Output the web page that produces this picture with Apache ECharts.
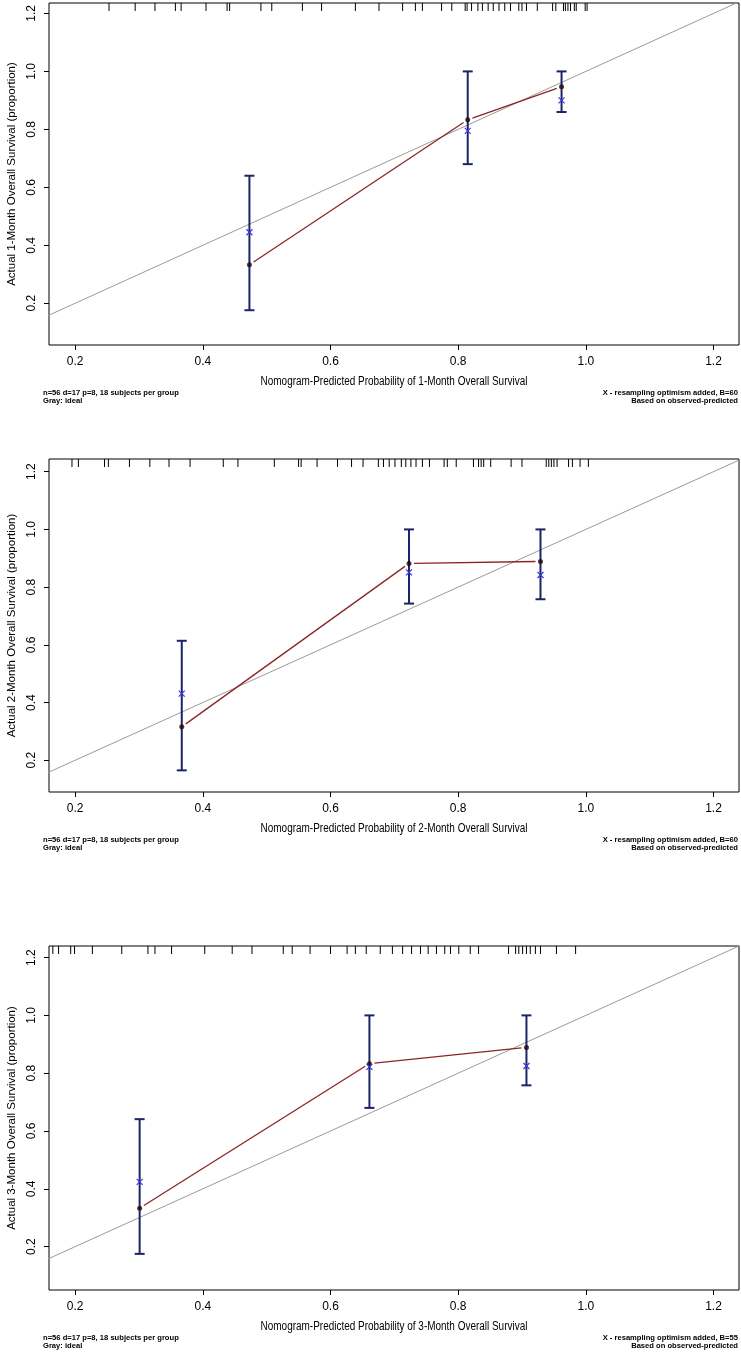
<!DOCTYPE html>
<html><head><meta charset="utf-8">
<script src="https://cdn.jsdelivr.net/npm/echarts@6/dist/echarts.min.js"></script>
<style>html,body{margin:0;padding:0;background:#fff}#c{width:741px;height:1352px}</style>
</head><body><div id="c"></div>
<script>
// ---------- data ----------
const xTicks = [0.2, 0.4, 0.6, 0.8, 1.0, 1.2];
const yTicks = [0.2, 0.4, 0.6, 0.8, 1.0, 1.2];
const monthLabels = ['1-Month', '2-Month', '3-Month'];
const bootReps = [60, 60, 55];

// panel 1: 1-month
const p1Pred = [0.473, 0.815, 0.962];
const p1Obs  = [0.333, 0.833, 0.947];
const p1Corr = [0.445, 0.795, 0.900];
const p1Lo   = [0.176, 0.680, 0.860];
const p1Hi   = [0.640, 1.000, 1.000];
const p1Rug  = [0.253,0.294,0.325,0.357,0.366,0.405,0.438,0.442,0.491,0.508,0.556,0.586,0.639,0.676,0.713,0.733,0.744,0.774,0.790,0.811,0.814,0.821,0.831,0.838,0.847,0.855,0.864,0.873,0.882,0.895,0.900,0.907,0.924,0.948,0.953,0.965,0.968,0.972,0.976,0.982,0.985,0.999,1.002];

// panel 2: 2-month
const p2Pred = [0.367, 0.723, 0.929];
const p2Obs  = [0.316, 0.882, 0.889];
const p2Corr = [0.431, 0.851, 0.842];
const p2Lo   = [0.165, 0.743, 0.758];
const p2Hi   = [0.614, 1.000, 1.000];
const p2Rug  = [0.195,0.205,0.246,0.252,0.285,0.317,0.347,0.380,0.432,0.455,0.512,0.550,0.554,0.579,0.611,0.633,0.651,0.675,0.683,0.692,0.701,0.711,0.718,0.726,0.734,0.744,0.755,0.778,0.783,0.797,0.824,0.832,0.836,0.840,0.851,0.883,0.900,0.938,0.942,0.946,0.950,0.955,0.973,0.979,0.991,1.004];

// panel 3: 3-month
const p3Pred = [0.301, 0.661, 0.907];
const p3Obs  = [0.333, 0.833, 0.889];
const p3Corr = [0.424, 0.822, 0.825];
const p3Lo   = [0.175, 0.680, 0.758];
const p3Hi   = [0.641, 1.000, 1.000];
const p3Rug  = [0.165,0.174,0.193,0.199,0.227,0.273,0.314,0.325,0.351,0.403,0.446,0.477,0.526,0.540,0.568,0.600,0.626,0.639,0.656,0.678,0.697,0.713,0.727,0.741,0.753,0.766,0.779,0.788,0.801,0.819,0.832,0.879,0.890,0.895,0.901,0.907,0.913,0.921,0.929,0.954,0.984];

// ---------- layout ----------
const panels = [
  {pred:p1Pred, obs:p1Obs, corr:p1Corr, lo:p1Lo, hi:p1Hi, rug:p1Rug, top:3,   height:342, ymin:0.056, ymax:1.236},
  {pred:p2Pred, obs:p2Obs, corr:p2Corr, lo:p2Lo, hi:p2Hi, rug:p2Rug, top:459, height:333, ymin:0.090, ymax:1.244},
  {pred:p3Pred, obs:p3Obs, corr:p3Corr, lo:p3Lo, hi:p3Hi, rug:p3Rug, top:946, height:344, ymin:0.050, ymax:1.240}
];
const X_MIN = 0.159, X_MAX = 1.240;
const GL = 49, GW = 690;
const FONT = '"Liberation Sans", Arial, sans-serif';

const chart = echarts.init(document.getElementById('c'), null, {renderer:'canvas'});
const grid = [], xAxis = [], yAxis = [], series = [], graphic = [];

panels.forEach((p, i) => {
  grid.push({left:GL, top:p.top, width:GW, height:p.height, show:true, borderColor:'#000', borderWidth:1,
    backgroundColor:'transparent', containLabel:false, outerBoundsMode:'none'});
  xAxis.push({
    type:'value', gridIndex:i, min:X_MIN, max:X_MAX,
    axisLine:{show:false}, splitLine:{show:false},
    axisTick:{show:true, inside:false, length:5, lineStyle:{color:'#000'}, customValues:xTicks},
    axisLabel:{color:'#000', fontSize:12, fontFamily:FONT, margin:11, customValues:xTicks, formatter:v=>v.toFixed(1)}
  });
  yAxis.push({
    type:'value', gridIndex:i, min:p.ymin, max:p.ymax,
    axisLine:{show:false}, splitLine:{show:false},
    axisTick:{show:true, inside:false, length:5, lineStyle:{color:'#000'}, customValues:yTicks},
    axisLabel:{color:'#000', fontSize:12, fontFamily:FONT, margin:11, rotate:90, customValues:yTicks, formatter:v=>v.toFixed(1)},
    name:'Actual ' + monthLabels[i] + ' Overall Survival (proportion)',
    nameLocation:'middle', nameGap:31, nameRotate:90,
    nameTextStyle:{color:'#000', fontSize:11.5, fontFamily:FONT}
  });
  // ideal line
  series.push({type:'line', xAxisIndex:i, yAxisIndex:i, clip:true, symbol:'none', silent:true,
    data:[[0,0],[2,2]], lineStyle:{color:'#9a9a9a', width:1}, z:1});
  // rug at top
  series.push({type:'custom', xAxisIndex:i, yAxisIndex:i, silent:true, z:2,
    data:p.rug.map(v=>[v, p.ymax]),
    renderItem:(params, api)=>{
      const c = api.coord([api.value(0), api.value(1)]);
      return {type:'line', shape:{x1:c[0], y1:c[1], x2:c[0], y2:c[1]+8}, style:{stroke:'#000', lineWidth:1}};
    }});
  // error bars
  series.push({type:'custom', xAxisIndex:i, yAxisIndex:i, silent:true, z:3,
    data:p.pred.map((x,k)=>[x, p.lo[k], p.hi[k]]),
    renderItem:(params, api)=>{
      const a = api.coord([api.value(0), api.value(1)]);
      const b = api.coord([api.value(0), api.value(2)]);
      const st = {stroke:'#1b2466', lineWidth:2};
      return {type:'group', children:[
        {type:'line', shape:{x1:a[0], y1:a[1], x2:b[0], y2:b[1]}, style:st},
        {type:'line', shape:{x1:a[0]-5, y1:a[1], x2:a[0]+5, y2:a[1]}, style:st},
        {type:'line', shape:{x1:b[0]-5, y1:b[1], x2:b[0]+5, y2:b[1]}, style:st}
      ]};
    }});
  // observed line (R type="b": segments stop short of the points)
  series.push({type:'custom', xAxisIndex:i, yAxisIndex:i, silent:true, z:4,
    data:p.pred.slice(0, -1).map((x,k)=>[x, p.obs[k], p.pred[k+1], p.obs[k+1]]),
    renderItem:(params, api)=>{
      const a = api.coord([api.value(0), api.value(1)]);
      const b = api.coord([api.value(2), api.value(3)]);
      const dx = b[0]-a[0], dy = b[1]-a[1], L = Math.sqrt(dx*dx+dy*dy), g = 5/L;
      return {type:'line', shape:{x1:a[0]+dx*g, y1:a[1]+dy*g, x2:b[0]-dx*g, y2:b[1]-dy*g},
        style:{stroke:'#8b2525', lineWidth:1.3}};
    }});
  // observed dots
  series.push({type:'scatter', xAxisIndex:i, yAxisIndex:i, silent:true, z:5, symbol:'circle', symbolSize:5,
    data:p.pred.map((x,k)=>[x, p.obs[k]]), itemStyle:{color:'#200808'}});
  // bias-corrected x marks
  series.push({type:'custom', xAxisIndex:i, yAxisIndex:i, silent:true, z:6,
    data:p.pred.map((x,k)=>[x, p.corr[k]]),
    renderItem:(params, api)=>{
      const c = api.coord([api.value(0), api.value(1)]);
      const s = 3, st = {stroke:'#3a3ae0', lineWidth:1.2};
      return {type:'group', children:[
        {type:'line', shape:{x1:c[0]-s, y1:c[1]-s, x2:c[0]+s, y2:c[1]+s}, style:st},
        {type:'line', shape:{x1:c[0]-s, y1:c[1]+s, x2:c[0]+s, y2:c[1]-s}, style:st}
      ]};
    }});
  const bottom = p.top + p.height;
  // x-axis title (condensed like the original)
  graphic.push({type:'text', x:GL + GW/2, y:bottom + 37, scaleX:0.83, silent:true,
    style:{text:'Nomogram-Predicted Probability of ' + monthLabels[i] + ' Overall Survival',
      fill:'#000', font:'12px ' + FONT, align:'center', verticalAlign:'middle'}});
  const fy = bottom + 44;
  const fs = {fill:'#000', font:'bold 8px ' + FONT, lineHeight:8};
  graphic.push({type:'text', x:43, y:fy, scaleX:0.95, silent:true,
    style:Object.assign({text:'n=56 d=17 p=8, 18 subjects per group\nGray: ideal', align:'left', verticalAlign:'top'}, fs)});
  graphic.push({type:'text', x:738, y:fy, scaleX:0.95, silent:true,
    style:Object.assign({text:'X - resampling optimism added, B=' + bootReps[i] + '\nBased on observed-predicted', align:'right', verticalAlign:'top'}, fs)});
});

chart.setOption({animation:false, backgroundColor:'#fff', grid, xAxis, yAxis, series, graphic});
</script>
</body></html>
